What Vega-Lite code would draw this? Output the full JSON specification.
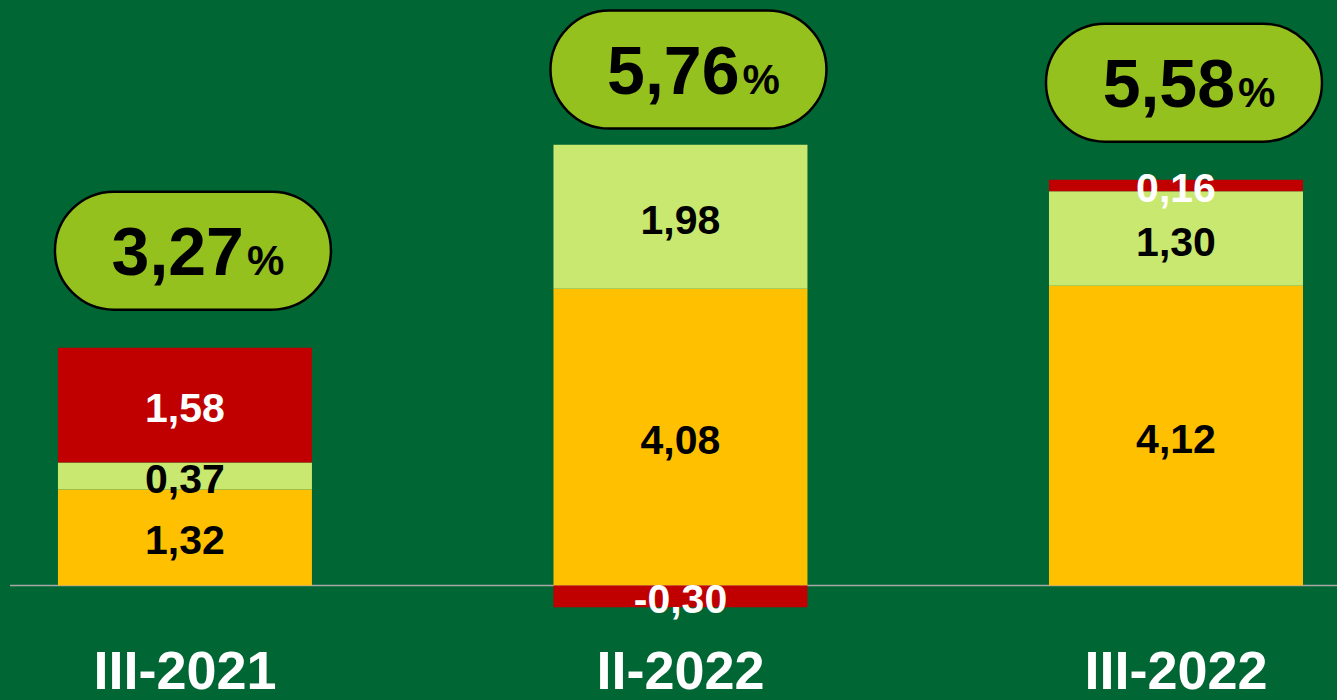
{
  "$schema": "https://vega.github.io/schema/vega-lite/v6.json",
  "autosize": {"type": "none"},
  "padding": {"left": 10, "top": 0, "right": 0, "bottom": 60},
  "width": 1327,
  "height": 640,
  "background": "#006633",
  "config": {
    "view": {"stroke": null},
    "locale": {"number": {"decimal": ",", "thousands": ".", "grouping": [3], "currency": ["", ""], "minus": "-"}}
  },
  "datasets": {
    "parts": [
      {"period": "III-2021", "comp": "c1", "ord": 1, "value": 1.32},
      {"period": "III-2021", "comp": "c2", "ord": 2, "value": 0.37},
      {"period": "III-2021", "comp": "c3", "ord": 3, "value": 1.58},
      {"period": "II-2022", "comp": "c1", "ord": 1, "value": 4.08},
      {"period": "II-2022", "comp": "c2", "ord": 2, "value": 1.98},
      {"period": "II-2022", "comp": "c3", "ord": 3, "value": -0.30},
      {"period": "III-2022", "comp": "c1", "ord": 1, "value": 4.12},
      {"period": "III-2022", "comp": "c2", "ord": 2, "value": 1.30},
      {"period": "III-2022", "comp": "c3", "ord": 3, "value": 0.16}
    ],
    "totals": [
      {"period": "III-2021", "total": 3.27},
      {"period": "II-2022", "total": 5.76},
      {"period": "III-2022", "total": 5.58}
    ]
  },
  "layer": [
    {
      "data": {"values": [{"base": 0}]},
      "mark": {"type": "rule", "color": "#A6A6A6", "strokeWidth": 1.5},
      "encoding": {
        "y": {"field": "base", "type": "quantitative", "scale": {"domain": [-0.75, 8.05], "nice": false, "zero": false}, "axis": null}
      }
    },
    {
      "data": {"name": "parts"},
      "mark": {"type": "bar"},
      "encoding": {
        "x": {
          "field": "period", "type": "nominal", "sort": ["III-2021", "II-2022", "III-2022"],
          "scale": {"paddingInner": 0.4874, "paddingOuter": 0.0827, "align": 0.585},
          "title": null,
          "axis": {"domain": false, "ticks": false, "labelAngle": 0, "labelFont": "Liberation Sans", "labelFontWeight": "bold", "labelFontSize": 54, "labelColor": "white", "labelBaseline": "alphabetic", "labelPadding": 48, "labelLimit": 400}
        },
        "y": {"field": "value", "type": "quantitative", "stack": "zero", "axis": null},
        "color": {"field": "comp", "type": "nominal", "scale": {"domain": ["c1", "c2", "c3"], "range": ["#FFC000", "#C9E86F", "#C00000"]}, "legend": null},
        "order": {"field": "ord", "type": "quantitative"}
      }
    },
    {
      "data": {"name": "parts"},
      "mark": {"type": "text", "font": "Liberation Sans", "fontWeight": "bold", "fontSize": 41, "baseline": "middle", "align": "center", "dy": 5},
      "encoding": {
        "x": {"field": "period", "type": "nominal", "sort": ["III-2021", "II-2022", "III-2022"], "title": null},
        "y": {"field": "value", "type": "quantitative", "stack": "zero", "bandPosition": 0.5},
        "order": {"field": "ord", "type": "quantitative"},
        "text": {"field": "value", "type": "quantitative", "format": ".2f"},
        "color": {"condition": {"test": "datum.comp === 'c3'", "value": "white"}, "value": "black"}
      }
    },
    {
      "data": {"name": "totals"},
      "mark": {"type": "point", "shape": "M -0.5725 -0.4275 L 0.5725 -0.4275 A 0.4275 0.4275 0 0 1 0.5725 0.4275 L -0.5725 0.4275 A 0.4275 0.4275 0 0 1 -0.5725 -0.4275 Z", "size": 76176, "filled": true, "fill": "#95C11F", "stroke": "#000000", "strokeWidth": 2.5, "opacity": 1, "fillOpacity": 1, "strokeOpacity": 1, "xOffset": 8, "yOffset": -97},
      "encoding": {
        "x": {"field": "period", "type": "nominal", "sort": ["III-2021", "II-2022", "III-2022"], "title": null},
        "y": {"field": "total", "type": "quantitative"}
      }
    },
    {
      "data": {"name": "totals"},
      "mark": {"type": "text", "font": "Liberation Sans", "fontWeight": "bold", "fontSize": 68, "align": "right", "baseline": "alphabetic", "dx": 59, "dy": -73, "color": "black"},
      "encoding": {
        "x": {"field": "period", "type": "nominal", "sort": ["III-2021", "II-2022", "III-2022"], "title": null},
        "y": {"field": "total", "type": "quantitative"},
        "text": {"field": "total", "type": "quantitative", "format": ".2f"}
      }
    },
    {
      "data": {"name": "totals"},
      "mark": {"type": "text", "font": "Liberation Sans", "fontWeight": "bold", "fontSize": 42, "align": "left", "baseline": "alphabetic", "dx": 62, "dy": -73, "color": "black", "text": "%"},
      "encoding": {
        "x": {"field": "period", "type": "nominal", "sort": ["III-2021", "II-2022", "III-2022"], "title": null},
        "y": {"field": "total", "type": "quantitative"}
      }
    }
  ]
}
